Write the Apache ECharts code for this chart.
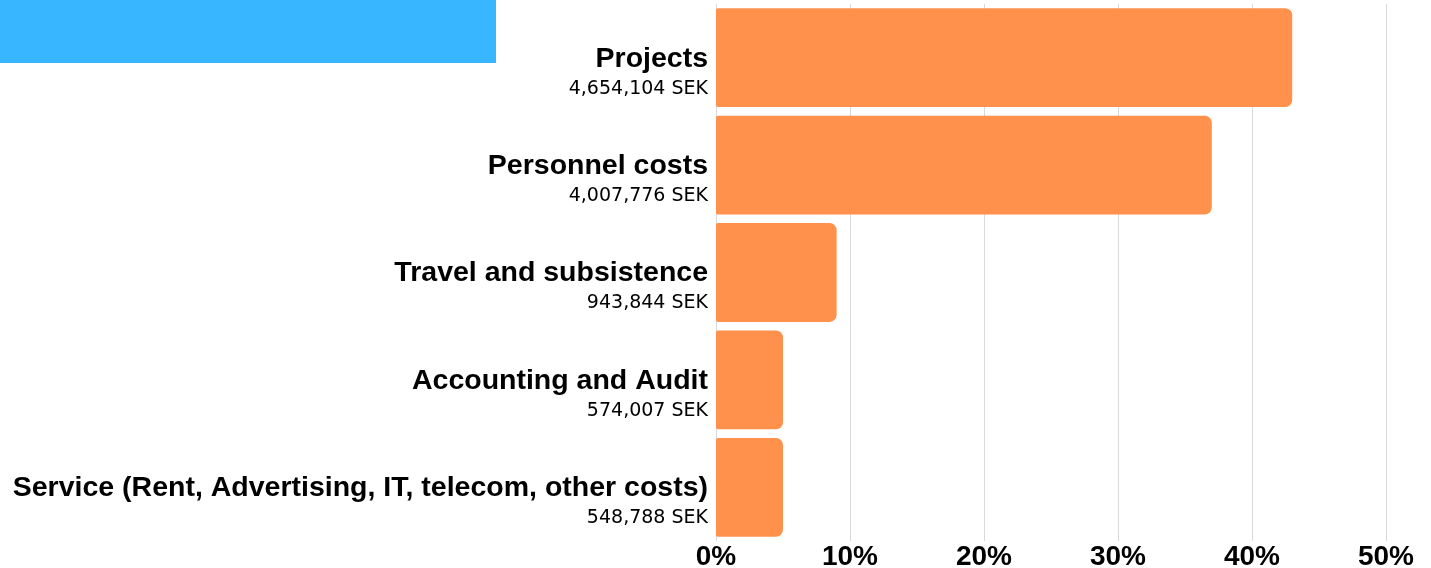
<!DOCTYPE html>
<html>
<head>
<meta charset="utf-8">
<script src="https://cdn.jsdelivr.net/npm/echarts@6/dist/echarts.min.js"></script>
<style>
  html, body { margin: 0; padding: 0; background: #fff; }
  #chart { width: 1431px; height: 568px; }
</style>
</head>
<body>
<div id="chart"></div>
<script>
// categories, top to bottom
var categories = [
  "Projects",
  "Personnel costs",
  "Travel and subsistence",
  "Accounting and Audit",
  "Service (Rent, Advertising, IT, telecom, other costs)"
];
var amounts = ["4,654,104 SEK", "4,007,776 SEK", "943,844 SEK", "574,007 SEK", "548,788 SEK"];
// share of total, %
var shares = [43, 37, 9, 5, 5];
var xTicks = [0, 10, 20, 30, 40, 50];

var myChart = echarts.init(document.getElementById("chart"));
myChart.setOption({
  animation: false,
  graphic: [
    {
      type: "rect",
      left: 0,
      top: 0,
      shape: { width: 496, height: 63 },
      style: { fill: "#38b6ff" },
    },
  ],
  grid: {
    left: 716,
    right: 45,
    top: 4,
    bottom: 27,
    outerBoundsMode: "none",
  },
  xAxis: {
    type: "value",
    min: xTicks[0],
    max: xTicks[xTicks.length - 1],
    interval: 10,
    axisLine: { show: false },
    axisTick: { show: false },
    splitLine: {
      lineStyle: { color: "#d9d9d9", width: 1 },
    },
    axisLabel: {
      formatter: "{value}%",
      color: "#000",
      fontFamily: "Liberation Sans",
      fontWeight: "bold",
      fontSize: 28,
      margin: 2,
    },
  },
  yAxis: {
    type: "category",
    inverse: true,
    data: categories,
    axisLine: { show: false },
    axisTick: { show: false },
    axisLabel: {
      margin: 8,
      padding: [31, 0, 0, 0],
      formatter: function (val, idx) {
        return "{name|" + val + "}\n{amt|" + amounts[idx] + "}";
      },
      rich: {
        name: {
          fontFamily: "Liberation Sans",
          fontWeight: "bold",
          fontSize: 28.5,
          color: "#000",
          lineHeight: 31,
          align: "right",
        },
        amt: {
          fontFamily: "DejaVu Sans",
          fontSize: 19,
          color: "#000",
          lineHeight: 29,
          align: "right",
        },
      },
    },
  },
  series: [
    {
      type: "bar",
      data: shares,
      barCategoryGap: "8%",
      itemStyle: {
        color: "#ff914d",
        borderRadius: [2, 7, 7, 2],
      },
    },
  ],
});
</script>
</body>
</html>
